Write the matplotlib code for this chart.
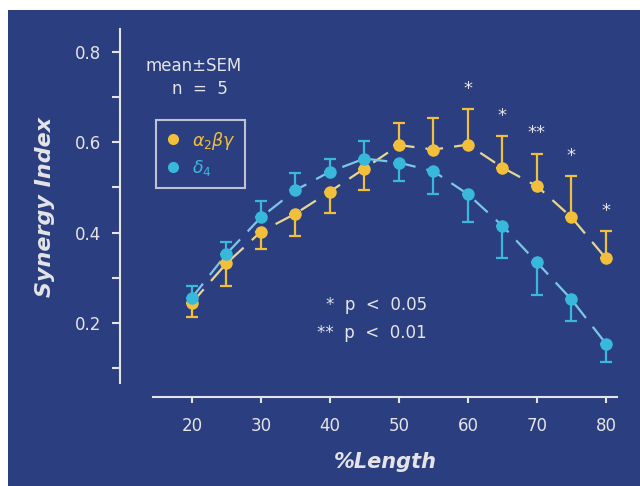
import matplotlib
matplotlib.use("Agg")
import matplotlib.pyplot as plt
from matplotlib.lines import Line2D
from matplotlib.patches import Rectangle
import numpy as np

# ---- data ----
length_pct = [20, 25, 30, 35, 40, 45, 50, 55, 60, 65, 70, 75, 80]
a2bg_mean = [0.245, 0.332, 0.402, 0.442, 0.491, 0.542, 0.594, 0.584, 0.595, 0.544, 0.503, 0.434, 0.343]
a2bg_sem = [0.032, 0.050, 0.038, 0.050, 0.047, 0.048, 0.049, 0.071, 0.078, 0.070, 0.072, 0.091, 0.061]
d4_mean = [0.256, 0.353, 0.434, 0.494, 0.535, 0.564, 0.555, 0.536, 0.485, 0.415, 0.334, 0.252, 0.154]
d4_sem = [0.026, 0.027, 0.037, 0.037, 0.027, 0.039, 0.040, 0.051, 0.062, 0.071, 0.071, 0.047, 0.040]
split_pct = 45  # error bars drawn on the side away from the other curve
sig_pct = [60, 65, 70, 75, 80]
sig_labels = ["*", "*", "**", "*", "*"]
series_labels = [r"$\alpha_2\beta\gamma$", r"$\delta_4$"]
xticks = [20, 30, 40, 50, 60, 70, 80]
yticks = [0.2, 0.4, 0.6, 0.8]
yminor = [0.1, 0.3, 0.5, 0.7]

BG = "#2b3f80"
FG = "#e4e4e8"
YEL = "#f2bf3a"
YEL_L = "#e6d690"
CYA = "#38b9dc"
CYA_L = "#7cc6e6"

fig = plt.figure(figsize=(6.4, 4.86), dpi=100, facecolor="white")
fig.patches.append(Rectangle((8/640, 0), 1, 1 - 10/486, transform=fig.transFigure,
                             facecolor=BG, edgecolor="none", zorder=-10))

ax = fig.add_axes([120/640, 89/486, 497/640, 368/486])
ax.set_zorder(5)
ax.set_facecolor("none")
ax.set_xlim(9.57, 81.6)
ax.set_ylim(0.036, 0.851)

x = np.array(length_pct)
ym = np.array(a2bg_mean); ys = np.array(a2bg_sem)
cm = np.array(d4_mean); cs = np.array(d4_sem)
low = x <= split_pct

# yellow: down for low, up for high
y_err = np.vstack([np.where(low, ys, 0), np.where(low, 0, ys)])
c_err = np.vstack([np.where(low, 0, cs), np.where(low, cs, 0)])

for m, err, mc, lc in [(ym, y_err, YEL, YEL_L), (cm, c_err, CYA, CYA_L)]:
    ax.errorbar(x, m, yerr=err, fmt="none", ecolor=mc, elinewidth=1.6,
                capsize=4, capthick=1.6, zorder=3)
    ln, = ax.plot(x, m, color=lc, lw=1.6, zorder=2)
    ln.set_dashes((8, 5))
    ax.plot(x, m, "o", color=mc, ms=9, mec="none", zorder=4)

# significance stars
for p, lab in zip(sig_pct, sig_labels):
    i = length_pct.index(p)
    ax.text(p, a2bg_mean[i] + a2bg_sem[i] + 0.045, lab, color=FG, fontsize=13,
            ha="center", va="center")

# spines
for s in ["top", "right"]:
    ax.spines[s].set_visible(False)
ax.spines["left"].set_bounds(0.067, 0.851)
ax.spines["bottom"].set_bounds(14.3, 81.6)
for s in ["left", "bottom"]:
    ax.spines[s].set_color(FG)
    ax.spines[s].set_linewidth(1.5)

ax.set_xticks(xticks)
ax.set_xticklabels([str(v) for v in xticks])
ax.set_yticks(yticks)
ax.set_yticklabels([f"{v:.1f}" for v in yticks])
ax.set_yticks(yminor, minor=True)
ax.tick_params(axis="both", colors=FG, labelcolor=FG, labelsize=12, width=1.5)
ax.tick_params(axis="y", which="both", length=5.5, width=1.5, color=FG, pad=8)
ax.tick_params(axis="x", length=4.5, pad=10)

fig.text(45/640, 1 - 207/486, "Synergy Index", rotation=90, ha="center", va="center",
         color=FG, fontsize=16, fontweight="bold", fontstyle="italic")
fig.text(385/640, 1 - 462/486, "%Length", ha="center", va="center",
         color=FG, fontsize=15, fontweight="bold", fontstyle="italic")

fig.text(194/640, 1 - 66/486, "mean\u00b1SEM", ha="center", va="center", color=FG, fontsize=12)
fig.text(200/640, 1 - 89/486, "n  =  5", ha="center", va="center", color=FG, fontsize=12)

fig.text(427/640, 1 - 305/486, "*  p  <  0.05", ha="right", va="center", color=FG, fontsize=12)
fig.text(427/640, 1 - 333/486, "**  p  <  0.01", ha="right", va="center", color=FG, fontsize=12)

handles = [Line2D([], [], ls="none", marker="o", color=YEL, ms=8, mec="none"),
           Line2D([], [], ls="none", marker="o", color=CYA, ms=8, mec="none")]
leg = ax.legend(handles, series_labels, loc="upper left",
                bbox_to_anchor=((156-120)/497, (397-120)/368), borderaxespad=0,
                frameon=True, fancybox=False, fontsize=12.5, labelcolor=[YEL, CYA],
                handlelength=0.9, handletextpad=0.6, borderpad=0.55, labelspacing=0.4)
leg.get_frame().set_facecolor("none")
leg.get_frame().set_edgecolor(FG)
leg.get_frame().set_linewidth(1.5)

fig.savefig("out.png", dpi=100, facecolor=fig.get_facecolor())
